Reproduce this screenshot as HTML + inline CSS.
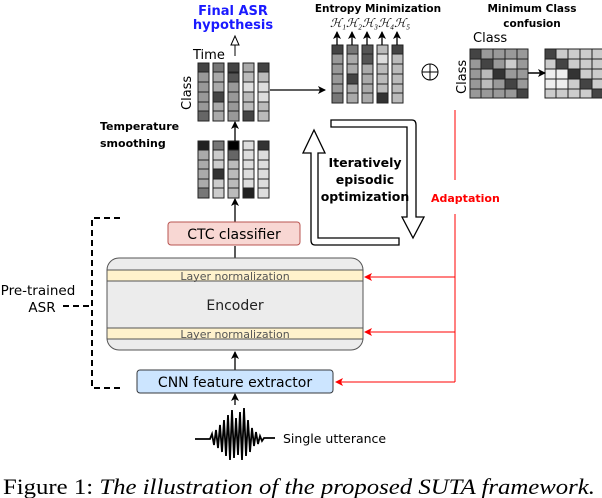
<!DOCTYPE html>
<html><head><style>body{margin:0;background:#fff}svg{display:block}text{font-family:"DejaVu Sans","Liberation Sans",sans-serif}</style></head>
<body>
<svg width="602" height="498" viewBox="0 0 602 498">
<defs>
<marker id="a" markerWidth="8" markerHeight="8" refX="7" refY="4" orient="auto" markerUnits="userSpaceOnUse"><path d="M0,0 L8,4 L0,8 L2,4z" fill="#000"/></marker>
<marker id="r" markerWidth="8" markerHeight="8" refX="7" refY="4" orient="auto" markerUnits="userSpaceOnUse"><path d="M0,0 L8,4 L0,8 L2,4z" fill="#f00"/></marker>
</defs>
<text x="233" y="15" font-size="13" font-weight="bold" fill="#1a1aff" text-anchor="middle">Final ASR</text>
<text x="233" y="29" font-size="13" font-weight="bold" fill="#1a1aff" text-anchor="middle">hypothesis</text>
<line x1="235" y1="56" x2="235" y2="44" stroke="#000"/><path d="M231,45 L235,36 L239,45z" fill="#fff" stroke="#000"/>
<text x="193" y="59" font-size="13">Time</text>
<text transform="translate(191,110) rotate(-90)" font-size="13">Class</text>
<g stroke="#222" stroke-width="1">
<rect x="198" y="63" width="11" height="58" fill="#999"/><rect x="213" y="63" width="11" height="58" fill="#aaa"/><rect x="228" y="63" width="11" height="58" fill="#999"/><rect x="243" y="63" width="11" height="58" fill="#bbb"/><rect x="258" y="63" width="11" height="58" fill="#bbb"/>
<rect x="198" y="63" width="11" height="9" fill="#444"/><rect x="213" y="63" width="11" height="9" fill="#777"/><rect x="228" y="63" width="11" height="9" fill="#444"/><rect x="243" y="63" width="11" height="9" fill="#aaa"/><rect x="258" y="63" width="11" height="9" fill="#444"/>
<rect x="213" y="92" width="11" height="10" fill="#444"/><rect x="243" y="82" width="11" height="10" fill="#ddd"/><rect x="258" y="82" width="11" height="20" fill="#ddd"/><rect x="243" y="111" width="11" height="10" fill="#444"/><rect x="198" y="111" width="11" height="10" fill="#666"/><rect x="228" y="73" width="11" height="9" fill="#555"/>
<path d="M198,72H209M198,82H209M198,92H209M198,102H209M198,111H209 M213,72H224M213,82H224M213,92H224M213,102H224M213,111H224 M228,72H239M228,82H239M228,92H239M228,102H239M228,111H239 M243,72H254M243,82H254M243,92H254M243,102H254M243,111H254 M258,72H269M258,82H269M258,92H269M258,102H269M258,111H269" fill="none"/>
<rect x="198" y="141" width="11" height="57" fill="#aaa"/><rect x="213" y="141" width="11" height="57" fill="#ccc"/><rect x="228" y="141" width="11" height="57" fill="#bbb"/><rect x="243" y="141" width="11" height="57" fill="#ddd"/><rect x="258" y="141" width="11" height="57" fill="#ddd"/>
<rect x="198" y="141" width="11" height="9" fill="#222"/><rect x="213" y="141" width="11" height="9" fill="#777"/><rect x="228" y="141" width="11" height="9" fill="#000"/><rect x="258" y="141" width="11" height="9" fill="#333"/><rect x="228" y="150" width="11" height="10" fill="#666"/><rect x="213" y="169" width="11" height="10" fill="#333"/><rect x="243" y="188" width="11" height="10" fill="#222"/><rect x="198" y="188" width="11" height="10" fill="#777"/>
<path d="M198,150H209M198,160H209M198,169H209M198,179H209M198,188H209 M213,150H224M213,160H224M213,169H224M213,179H224M213,188H224 M228,150H239M228,160H239M228,169H239M228,179H239M228,188H239 M243,150H254M243,160H254M243,169H254M243,179H254M243,188H254 M258,150H269M258,160H269M258,169H269M258,179H269M258,188H269" fill="none"/>
<rect x="332" y="45" width="11" height="58" fill="#999"/><rect x="347" y="45" width="11" height="58" fill="#aaa"/><rect x="362" y="45" width="11" height="58" fill="#aaa"/><rect x="377" y="45" width="11" height="58" fill="#bbb"/><rect x="392" y="45" width="11" height="58" fill="#bbb"/>
<rect x="332" y="45" width="11" height="9" fill="#444"/><rect x="347" y="45" width="11" height="9" fill="#777"/><rect x="362" y="45" width="11" height="19" fill="#555"/><rect x="392" y="45" width="11" height="9" fill="#444"/><rect x="347" y="74" width="11" height="10" fill="#444"/><rect x="377" y="93" width="11" height="10" fill="#333"/><rect x="332" y="93" width="11" height="10" fill="#777"/><rect x="377" y="54" width="11" height="10" fill="#ddd"/>
<path d="M332,54H343M332,64H343M332,74H343M332,84H343M332,93H343 M347,54H358M347,64H358M347,74H358M347,84H358M347,93H358 M362,54H373M362,64H373M362,74H373M362,84H373M362,93H373 M377,54H388M377,64H388M377,74H388M377,84H388M377,93H388 M392,54H403M392,64H403M392,74H403M392,84H403M392,93H403" fill="none"/>
<rect x="470" y="49" width="58" height="49" fill="#999"/>
<rect x="470" y="49" width="11" height="10" fill="#444"/><rect x="481" y="59" width="12" height="10" fill="#444"/><rect x="493" y="69" width="12" height="10" fill="#333"/><rect x="505" y="79" width="12" height="10" fill="#444"/><rect x="517" y="89" width="11" height="9" fill="#444"/><rect x="505" y="59" width="12" height="10" fill="#ccc"/><rect x="481" y="69" width="12" height="20" fill="#bbb"/>
<path d="M470,59H528M470,69H528M470,79H528M470,89H528M481,49V98M493,49V98M505,49V98M517,49V98" fill="none"/>
<rect x="545" y="49" width="58" height="49" fill="#ccc"/>
<rect x="545" y="49" width="11" height="10" fill="#444"/><rect x="556" y="59" width="12" height="10" fill="#444"/><rect x="568" y="69" width="12" height="10" fill="#333"/><rect x="580" y="79" width="12" height="10" fill="#444"/><rect x="592" y="89" width="11" height="9" fill="#444"/><rect x="545" y="69" width="23" height="20" fill="#eee"/>
<path d="M545,59H603M545,69H603M545,79H603M545,89H603M556,49V98M568,49V98M580,49V98M592,49V98" fill="none"/>
</g>
<text x="473" y="42" font-size="13">Class</text>
<text transform="translate(466,94) rotate(-90)" font-size="13">Class</text>
<line x1="528" y1="73" x2="545" y2="73" stroke="#000" stroke-width="1.5" marker-end="url(#a)"/>
<text x="532" y="12" font-size="10.5" font-weight="bold" text-anchor="middle">Minimum Class</text>
<text x="532" y="27" font-size="10.5" font-weight="bold" text-anchor="middle">confusion</text>
<text x="378" y="12" font-size="10.5" font-weight="bold" text-anchor="middle">Entropy Minimization</text>
<text x="330" y="27" font-size="12" style="font-family:'Liberation Serif',serif;font-style:italic">ℋ₁ℋ₂ℋ₃ℋ₄ℋ₅</text>
<g stroke="#000" stroke-width="1.3"><line x1="337" y1="45" x2="337" y2="32" marker-end="url(#a)"/><line x1="352" y1="45" x2="352" y2="32" marker-end="url(#a)"/><line x1="367" y1="45" x2="367" y2="32" marker-end="url(#a)"/><line x1="382" y1="45" x2="382" y2="32" marker-end="url(#a)"/><line x1="397" y1="45" x2="397" y2="32" marker-end="url(#a)"/></g>
<circle cx="430" cy="72" r="8" fill="#fff" stroke="#000"/><path d="M422,72H438M430,64V80" stroke="#000"/>
<text x="100" y="130" font-size="11" font-weight="bold">Temperature</text>
<text x="100" y="147" font-size="11" font-weight="bold">smoothing</text>
<g stroke="#000" stroke-width="1.3">
<line x1="270" y1="90" x2="325" y2="90" marker-end="url(#a)"/>
<line x1="235" y1="141" x2="235" y2="122" marker-end="url(#a)"/>
<line x1="235" y1="222" x2="235" y2="199" marker-end="url(#a)"/>
<line x1="235" y1="258" x2="235" y2="246"/>
<line x1="235" y1="370" x2="235" y2="352" marker-end="url(#a)"/>
<line x1="235" y1="405" x2="235" y2="394" marker-end="url(#a)"/>
</g>
<path d="M331,120H412Q416,120 416,125V217H424L413,238L402,217H407V127H331Z" fill="#fff" stroke="#000" stroke-width="1.3"/>
<path d="M399,245H315Q311,245 311,240V153H303L314,130L325,153H318V238H399Z" fill="#fff" stroke="#000" stroke-width="1.3"/>
<text x="365" y="167" font-size="12.5" font-weight="bold" text-anchor="middle">Iteratively</text>
<text x="365" y="184" font-size="12.5" font-weight="bold" text-anchor="middle">episodic</text>
<text x="365" y="201" font-size="12.5" font-weight="bold" text-anchor="middle">optimization</text>
<text x="431" y="202" font-size="11" font-weight="bold" fill="#f00">Adaptation</text>
<g stroke="#f00" stroke-width="1">
<line x1="455" y1="110" x2="455" y2="180"/><line x1="455" y1="214" x2="455" y2="382"/>
<line x1="455" y1="277" x2="365" y2="277" marker-end="url(#r)"/>
<line x1="455" y1="332" x2="365" y2="332" marker-end="url(#r)"/>
<line x1="455" y1="382" x2="336" y2="382" marker-end="url(#r)"/>
</g>
<rect x="168" y="222" width="132" height="23" rx="3" fill="#f8d7d3" stroke="#b85450"/>
<text x="234" y="239" font-size="14" text-anchor="middle">CTC classifier</text>
<rect x="107" y="258" width="256" height="92" rx="12" fill="#ececec" stroke="#555"/>
<rect x="107" y="270" width="256" height="11" fill="#fff2cc" stroke="#555"/>
<rect x="107" y="328" width="256" height="11" fill="#fff2cc" stroke="#555"/>
<text x="235" y="280" font-size="11" fill="#555" text-anchor="middle">Layer normalization</text>
<text x="235" y="338" font-size="11" fill="#555" text-anchor="middle">Layer normalization</text>
<text x="235" y="310" font-size="14" text-anchor="middle" fill="#222">Encoder</text>
<rect x="137" y="370" width="196" height="23" rx="3" fill="#cce5ff" stroke="#36393d"/>
<text x="235" y="387" font-size="14" text-anchor="middle">CNN feature extractor</text>
<path d="M120,218H92V388H120 M63,306H90" fill="none" stroke="#000" stroke-width="2" stroke-dasharray="6,4"/>
<text x="38" y="295" font-size="13.5" text-anchor="middle">Pre-trained</text>
<text x="42" y="312" font-size="13.5" text-anchor="middle">ASR</text>
<path d="M195,439H210 L212,434 214,445 216,430 218,448 220,425 222,452 224,420 226,456 228,415 230,460 232,410 234,458 236,418 238,455 240,412 242,460 244,408 246,456 248,420 250,452 252,428 254,446 256,432 258,444 260,436 262,441 264,438H275" fill="none" stroke="#000" stroke-width="1.8"/>
<text x="283" y="443" font-size="12.5">Single utterance</text>
<text x="3" y="494" font-size="22" textLength="592" lengthAdjust="spacingAndGlyphs" style="font-family:'Liberation Serif',serif">Figure 1: <tspan font-style="italic">The illustration of the proposed SUTA framework.</tspan></text>
</svg>
</body></html>
